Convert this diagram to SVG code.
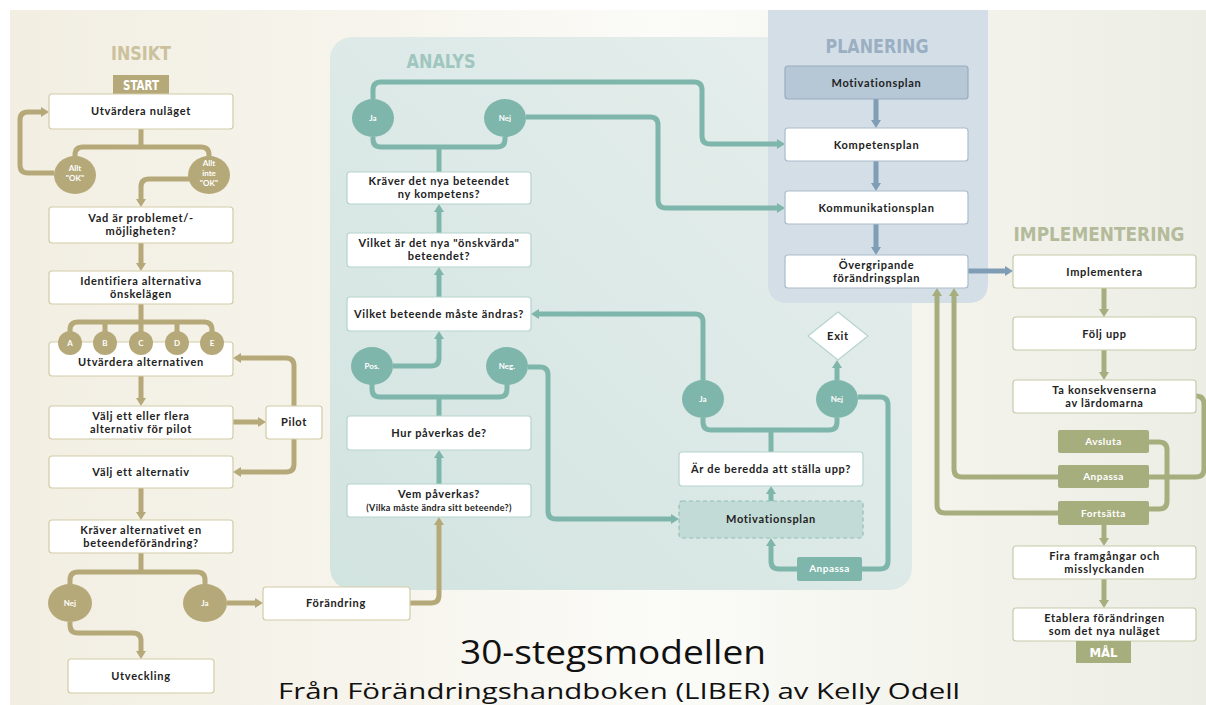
<svg xmlns="http://www.w3.org/2000/svg" width="1206" height="705" viewBox="0 0 1206 705">
<defs>
<linearGradient id="bg" x1="0" y1="0" x2="1" y2="0">
<stop offset="0" stop-color="#f2eee2"/>
<stop offset="0.3" stop-color="#f6f4ec"/>
<stop offset="0.55" stop-color="#fbfbf8"/>
<stop offset="0.8" stop-color="#f3f3ec"/>
<stop offset="1" stop-color="#ecede4"/>
</linearGradient>
<linearGradient id="analysBg" x1="0" y1="1" x2="1" y2="0">
<stop offset="0" stop-color="#d2e4e0"/>
<stop offset="1" stop-color="#e7efed"/>
</linearGradient>
<marker id="ao" viewBox="0 0 8 10" markerWidth="8" markerHeight="10" refX="0" refY="5" markerUnits="userSpaceOnUse" orient="auto"><path d="M0,0 L8,5 L0,10 z" fill="#b6a979"/></marker>
<marker id="at" viewBox="0 0 8 10" markerWidth="8" markerHeight="10" refX="0" refY="5" markerUnits="userSpaceOnUse" orient="auto"><path d="M0,0 L8,5 L0,10 z" fill="#7fb6ac"/></marker>
<marker id="ab" viewBox="0 0 8 10" markerWidth="8" markerHeight="10" refX="0" refY="5" markerUnits="userSpaceOnUse" orient="auto"><path d="M0,0 L8,5 L0,10 z" fill="#7f9db5"/></marker>
<marker id="ag" viewBox="0 0 8 10" markerWidth="8" markerHeight="10" refX="0" refY="5" markerUnits="userSpaceOnUse" orient="auto"><path d="M0,0 L8,5 L0,10 z" fill="#a7ae7e"/></marker>
</defs>
<style>
.box{fill:#fff;stroke-width:1.2}
.ins{stroke:#d3cba8}
.ana{stroke:#b5d3ce}
.pla{stroke:#a9bccb}
.imp{stroke:#c5caa9}
.t{font-family:Lato,"Noto Sans",sans-serif;font-weight:700;font-size:11px;fill:#222;letter-spacing:0.7px;text-anchor:middle}
.s{font-size:9px;letter-spacing:0.3px}
.lbl{font-family:Lato,"Noto Sans",sans-serif;font-weight:700;font-size:8px;fill:#fff;text-anchor:middle}
.tag{font-family:Lato,"Noto Sans",sans-serif;font-weight:700;font-size:10px;fill:#fff;letter-spacing:0.5px;text-anchor:middle}
.hd{font-family:"DejaVu Sans Condensed","DejaVu Sans",sans-serif;font-stretch:condensed;font-weight:700;font-size:20px;text-anchor:middle}
.c{fill:none;stroke-width:5;stroke-linejoin:round}
.co{stroke:#b6a979}
.ct{stroke:#7fb6ac}
.cb{stroke:#7f9db5}
.cg{stroke:#a7ae7e}
.fo{fill:#b6a979}
.ft{fill:#7fb6ac}
.fg{fill:#a7ae7e}
.ttl{font-family:"Open Sans",Lato,sans-serif;fill:#111;text-anchor:middle}
</style>
<rect width="1206" height="705" fill="#fff"/>
<rect x="10" y="10" width="1196" height="695" fill="url(#bg)"/>
<g id="panels">
<rect x="330" y="37" width="582" height="553" rx="22" fill="url(#analysBg)"/>
<path d="M768,10 H988 V283 Q988,303 968,303 H788 Q768,303 768,283 Z" fill="#d4dee7"/>
<text class="hd" x="141" y="60" fill="#cbc29d" textLength="60" lengthAdjust="spacingAndGlyphs">INSIKT</text>
<text class="hd" x="441" y="68" fill="#9fc6bf" textLength="69" lengthAdjust="spacingAndGlyphs">ANALYS</text>
<text class="hd" x="877" y="53" fill="#9aafc2" textLength="103" lengthAdjust="spacingAndGlyphs">PLANERING</text>
<text class="hd" x="1099" y="241" fill="#b4bb9b" textLength="171" lengthAdjust="spacingAndGlyphs">IMPLEMENTERING</text>
</g>
<g id="connectors">
<path class="c co" d="M54,173 H28 Q20,173 20,165 V120 Q20,112 28,112 H41" marker-end="url(#ao)"/>
<path class="c co" d="M141,129 V147"/>
<path class="c co" d="M75,158 V155 Q75,147 83,147 H201 Q209,147 209,155 V158"/>
<path class="c co" d="M189,179 H149 Q141,179 141,187 V199" marker-end="url(#ao)"/>
<path class="c co" d="M141,243 V263" marker-end="url(#ao)"/>
<path class="c co" d="M141,304 V333"/>
<path class="c co" d="M70,333 V330 Q70,322 78,322 H204 Q212,322 212,330 V333 M105,322 V333 M177,322 V333"/>
<path class="c co" d="M141,376 V398" marker-end="url(#ao)"/>
<path class="c co" d="M233,422 H258" marker-end="url(#ao)"/>
<path class="c co" d="M294,406 V366 Q294,358 286,358 H241" marker-end="url(#ao)"/>
<path class="c co" d="M294,439 V464 Q294,472 286,472 H241" marker-end="url(#ao)"/>
<path class="c co" d="M141,488 V512" marker-end="url(#ao)"/>
<path class="c co" d="M141,553 V572 M70,586 V580 Q70,572 78,572 H197 Q205,572 205,580 V586"/>
<path class="c co" d="M227,603 H255" marker-end="url(#ao)"/>
<path class="c co" d="M410,603 H431 Q439,603 439,595 V525" marker-end="url(#ao)"/>
<path class="c co" d="M70,622 V625 Q70,633 78,633 H133 Q141,633 141,641 V651" marker-end="url(#ao)"/>
<path class="c ct" d="M373,99 V90 Q373,82 381,82 H694 Q702,82 702,90 V136 Q702,144 710,144 H777" marker-end="url(#at)"/>
<path class="c ct" d="M526,117 H650 Q658,117 658,125 V200 Q658,208 666,208 H777" marker-end="url(#at)"/>
<path class="c ct" d="M373,137 V139 Q373,147 381,147 H497 Q505,147 505,139 V137 M439,147 V172"/>
<path class="c ct" d="M439,233 V212" marker-end="url(#at)"/>
<path class="c ct" d="M439,297 V275" marker-end="url(#at)"/>
<path class="c ct" d="M393,366 H431 Q439,366 439,358 V339" marker-end="url(#at)"/>
<path class="c ct" d="M372,384 V389 Q372,397 380,397 H499 Q507,397 507,389 V384 M439,397 V416"/>
<path class="c ct" d="M528,367 H540 Q548,367 548,375 V511 Q548,519 556,519 H671" marker-end="url(#at)"/>
<path class="c ct" d="M439,484 V458" marker-end="url(#at)"/>
<path class="c ct" d="M703,380 V322 Q703,314 695,314 H539" marker-end="url(#at)"/>
<path class="c ct" d="M837,380 V368" marker-end="url(#at)"/>
<path class="c ct" d="M703,418 V422 Q703,430 711,430 H829 Q837,430 837,422 V418 M771,430 V452"/>
<path class="c ct" d="M858,397 H880 Q888,397 888,405 V561 Q888,569 880,569 H862"/>
<path class="c ct" d="M797,569 H779 Q771,569 771,561 V546" marker-end="url(#at)"/>
<path class="c ct" d="M771,501 V494" marker-end="url(#at)"/>
<path class="c cb" d="M876,99 V120" marker-end="url(#ab)"/>
<path class="c cb" d="M876,161 V183" marker-end="url(#ab)"/>
<path class="c cb" d="M876,224 V247" marker-end="url(#ab)"/>
<path class="c cb" d="M968,271 H1005" marker-end="url(#ab)"/>
<path class="c cg" d="M1104,288 V309" marker-end="url(#ag)"/>
<path class="c cg" d="M1104,350 V372" marker-end="url(#ag)"/>
<path class="c cg" d="M1149,442 H1159 Q1167,442 1167,450 V501 Q1167,509 1159,509 H1149"/>
<path class="c cg" d="M1196,396 Q1204,396 1204,404 V469 Q1204,477 1196,477 H1149"/>
<path class="c cg" d="M1058,477 H962 Q954,477 954,469 V296" marker-end="url(#ag)"/>
<path class="c cg" d="M1058,513 H945 Q937,513 937,505 V296" marker-end="url(#ag)"/>
<path class="c cg" d="M1104,525 V538" marker-end="url(#ag)"/>
<path class="c cg" d="M1104,579 V600" marker-end="url(#ag)"/>
</g>
<g id="n-start"><rect x="113" y="75" width="56" height="19" class="fo"/><text class="hd" x="141" y="90" fill="#fff" textLength="36" lengthAdjust="spacingAndGlyphs" style="font-size:14px">START</text></g>
<g id="n-utvardera"><rect class="box ins" x="49" y="94" width="184" height="35" rx="3"/><text class="t" x="141" y="115">Utvärdera nuläget</text></g>
<g id="n-allt-ok"><ellipse class="fo" cx="75" cy="175" rx="21" ry="19"/><text class="lbl" x="75" y="171">Allt</text><text class="lbl" x="75" y="181">"OK"</text></g>
<g id="n-allt-inte-ok"><ellipse class="fo" cx="209" cy="175" rx="21" ry="19"/><text class="lbl" x="209" y="166">Allt</text><text class="lbl" x="209" y="176">inte</text><text class="lbl" x="209" y="186">"OK"</text></g>
<g id="n-problem"><rect class="box ins" x="49" y="207" width="184" height="36" rx="3"/><text class="t" x="141" y="222">Vad är problemet/-</text><text class="t" x="141" y="235">möjligheten?</text></g>
<g id="n-identifiera"><rect class="box ins" x="49" y="271" width="184" height="33" rx="3"/><text class="t" x="141" y="285">Identifiera alternativa</text><text class="t" x="141" y="298">önskelägen</text></g>
<g id="n-utv-alt"><rect class="box ins" x="49" y="342" width="184" height="34" rx="3"/><text class="t" x="141" y="366">Utvärdera alternativen</text></g>
<g id="n-abcde">
<circle class="fo" cx="70" cy="343" r="12"/><text class="lbl" x="70" y="346">A</text>
<circle class="fo" cx="105" cy="343" r="12"/><text class="lbl" x="105" y="346">B</text>
<circle class="fo" cx="141" cy="343" r="12"/><text class="lbl" x="141" y="346">C</text>
<circle class="fo" cx="177" cy="343" r="12"/><text class="lbl" x="177" y="346">D</text>
<circle class="fo" cx="212" cy="343" r="12"/><text class="lbl" x="212" y="346">E</text>
</g>
<g id="n-valj-pilot"><rect class="box ins" x="49" y="406" width="184" height="33" rx="3"/><text class="t" x="141" y="420">Välj ett eller flera</text><text class="t" x="141" y="433">alternativ för pilot</text></g>
<g id="n-pilot"><rect class="box ins" x="266" y="406" width="56" height="33" rx="3"/><text class="t" x="294" y="426">Pilot</text></g>
<g id="n-valj-alt"><rect class="box ins" x="49" y="456" width="184" height="32" rx="3"/><text class="t" x="141" y="476">Välj ett alternativ</text></g>
<g id="n-kraver-alt"><rect class="box ins" x="49" y="520" width="184" height="33" rx="3"/><text class="t" x="141" y="534">Kräver alternativet en</text><text class="t" x="141" y="547">beteendeförändring?</text></g>
<g id="n-nej1"><ellipse class="fo" cx="70" cy="603" rx="22" ry="19"/><text class="lbl" x="70" y="606">Nej</text></g>
<g id="n-ja1"><ellipse class="fo" cx="205" cy="603" rx="22" ry="19"/><text class="lbl" x="205" y="606">Ja</text></g>
<g id="n-forandring"><rect class="box ins" x="263" y="587" width="147" height="33" rx="3"/><text class="t" x="336" y="607">Förändring</text></g>
<g id="n-utveckling"><rect class="box ins" x="68" y="659" width="146" height="34" rx="3"/><text class="t" x="141" y="680">Utveckling</text></g>
<g id="n-ja2"><ellipse class="ft" cx="373" cy="118" rx="21" ry="19"/><text class="lbl" x="373" y="121">Ja</text></g>
<g id="n-nej2"><ellipse class="ft" cx="505" cy="118" rx="21" ry="19"/><text class="lbl" x="505" y="121">Nej</text></g>
<g id="n-kompetens-q"><rect class="box ana" x="347" y="172" width="184" height="32" rx="3"/><text class="t" x="439" y="185">Kräver det nya beteendet</text><text class="t" x="439" y="198">ny kompetens?</text></g>
<g id="n-onskvarda"><rect class="box ana" x="347" y="233" width="184" height="34" rx="3"/><text class="t" x="439" y="247">Vilket är det nya "önskvärda"</text><text class="t" x="439" y="260">beteendet?</text></g>
<g id="n-beteende"><rect class="box ana" x="347" y="297" width="184" height="34" rx="3"/><text class="t" x="439" y="318">Vilket beteende måste ändras?</text></g>
<g id="n-pos"><ellipse class="ft" cx="372" cy="366" rx="21" ry="19"/><text class="lbl" x="372" y="369">Pos.</text></g>
<g id="n-neg"><ellipse class="ft" cx="507" cy="366" rx="21" ry="19"/><text class="lbl" x="507" y="369">Neg.</text></g>
<g id="n-hur"><rect class="box ana" x="347" y="416" width="184" height="34" rx="3"/><text class="t" x="439" y="437">Hur påverkas de?</text></g>
<g id="n-vem"><rect class="box ana" x="347" y="484" width="184" height="33" rx="3"/><text class="t" x="439" y="498">Vem påverkas?</text><text class="t s" x="439" y="511">(Vilka måste ändra sitt beteende?)</text></g>
<g id="n-ja3"><ellipse class="ft" cx="703" cy="399" rx="21" ry="19"/><text class="lbl" x="703" y="402">Ja</text></g>
<g id="n-nej3"><ellipse class="ft" cx="837" cy="399" rx="21" ry="19"/><text class="lbl" x="837" y="402">Nej</text></g>
<g id="n-exit"><polygon points="838,312 868,336 838,360 808,336" fill="#fff" stroke="#b5d3ce" stroke-width="1.2"/><text class="t" x="838" y="340">Exit</text></g>
<g id="n-beredda"><rect class="box ana" x="679" y="452" width="184" height="34" rx="3"/><text class="t" x="771" y="473">Är de beredda att ställa upp?</text></g>
<g id="n-motiv-a"><rect x="679" y="501" width="184" height="37" rx="3" fill="#c3dbd6" stroke="#92bfb7" stroke-width="1.2" stroke-dasharray="4 3"/><text class="t" x="771" y="523">Motivationsplan</text></g>
<g id="n-anpassa-a"><rect class="ft" x="797" y="557" width="65" height="24" rx="2"/><text class="tag" x="829.5" y="572">Anpassa</text></g>
<g id="n-motiv-p"><rect x="785" y="66" width="183" height="33" rx="3" fill="#b6c7d6" stroke="#97acbf" stroke-width="1.2"/><text class="t" x="876.5" y="87">Motivationsplan</text></g>
<g id="n-kompetensplan"><rect class="box pla" x="785" y="128" width="183" height="33" rx="3"/><text class="t" x="876.5" y="149">Kompetensplan</text></g>
<g id="n-kommunikation"><rect class="box pla" x="785" y="191" width="183" height="33" rx="3"/><text class="t" x="876.5" y="212">Kommunikationsplan</text></g>
<g id="n-overgripande"><rect class="box pla" x="785" y="255" width="183" height="33" rx="3"/><text class="t" x="876.5" y="269">Övergripande</text><text class="t" x="876.5" y="282">förändringsplan</text></g>
<g id="n-implementera"><rect class="box imp" x="1013" y="255" width="183" height="33" rx="3"/><text class="t" x="1104.5" y="276">Implementera</text></g>
<g id="n-folj"><rect class="box imp" x="1013" y="317" width="183" height="33" rx="3"/><text class="t" x="1104.5" y="338">Följ upp</text></g>
<g id="n-ta"><rect class="box imp" x="1013" y="380" width="183" height="33" rx="3"/><text class="t" x="1104.5" y="394">Ta konsekvenserna</text><text class="t" x="1104.5" y="407">av lärdomarna</text></g>
<g id="n-avsluta"><rect class="fg" x="1058" y="430" width="91" height="23" rx="2"/><text class="tag" x="1103.5" y="445">Avsluta</text></g>
<g id="n-anpassa-i"><rect class="fg" x="1058" y="465" width="91" height="23" rx="2"/><text class="tag" x="1103.5" y="480">Anpassa</text></g>
<g id="n-fortsatta"><rect class="fg" x="1058" y="501" width="91" height="24" rx="2"/><text class="tag" x="1103.5" y="517">Fortsätta</text></g>
<g id="n-fira"><rect class="box imp" x="1013" y="546" width="183" height="33" rx="3"/><text class="t" x="1104.5" y="560">Fira framgångar och</text><text class="t" x="1104.5" y="573">misslyckanden</text></g>
<g id="n-etablera"><rect class="box imp" x="1013" y="608" width="183" height="33" rx="3"/><text class="t" x="1104.5" y="622">Etablera förändringen</text><text class="t" x="1104.5" y="635">som det nya nuläget</text></g>
<g id="n-mal"><rect class="fg" x="1076" y="641" width="55" height="22"/><text class="hd" x="1103.5" y="657" fill="#fff" style="font-size:13px">MÅL</text></g>
<g id="title">
<text class="ttl" x="613" y="664" font-size="32" textLength="306" lengthAdjust="spacingAndGlyphs">30-stegsmodellen</text>
<text class="ttl" x="619" y="699" font-size="22.5" textLength="682" lengthAdjust="spacingAndGlyphs">Från Förändringshandboken (LIBER) av Kelly Odell</text>
</g>
</svg>
